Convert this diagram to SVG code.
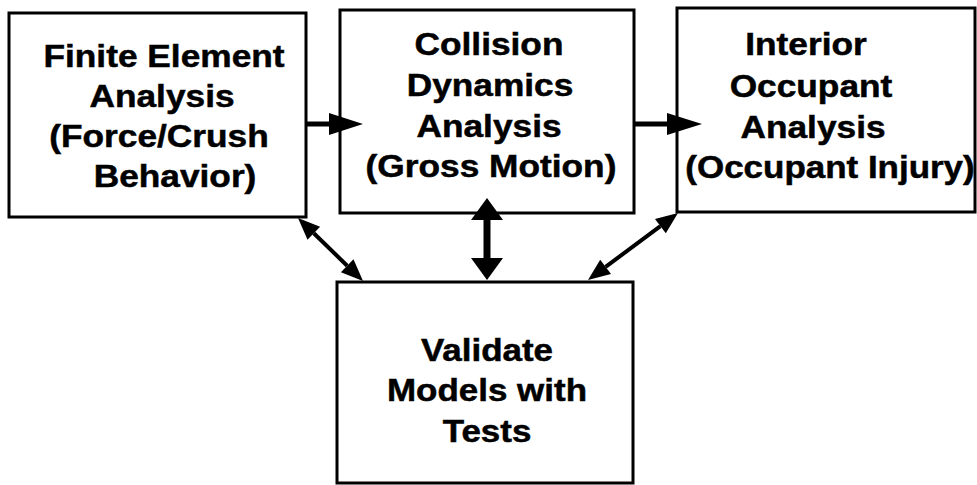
<svg xmlns="http://www.w3.org/2000/svg" width="977" height="485" viewBox="0 0 977 485">
<style>
.box{fill:#fff;stroke:#000;stroke-width:3}
.t{font-family:"Liberation Sans",Arial,sans-serif;font-weight:bold;font-size:31.5px;text-anchor:middle;fill:#000;stroke:#000;stroke-width:0.5}
.ln{stroke:#000;fill:none}
.hd{fill:#000;stroke:none}
</style>
<rect width="977" height="485" fill="#fff"/>
<g id="n1">
<rect class="box" x="9" y="13" width="297" height="204"/>
<text class="t" transform="translate(164,67) scale(1.12,1)">Finite Element</text>
<text class="t" transform="translate(162,107) scale(1.12,1)">Analysis</text>
<text class="t" transform="translate(159,147) scale(1.12,1)">(Force/Crush</text>
<text class="t" transform="translate(175,187) scale(1.12,1)">Behavior)</text>
</g>
<g id="n2">
<rect class="box" x="340" y="10" width="294" height="203"/>
<text class="t" transform="translate(489,55) scale(1.12,1)">Collision</text>
<text class="t" transform="translate(490,96) scale(1.12,1)">Dynamics</text>
<text class="t" transform="translate(489,137) scale(1.12,1)">Analysis</text>
<text class="t" transform="translate(491,177) scale(1.12,1)">(Gross Motion)</text>
</g>
<g id="n3">
<rect class="box" x="677" y="8" width="298" height="204"/>
<text class="t" transform="translate(806,55) scale(1.12,1)">Interior</text>
<text class="t" transform="translate(811,97) scale(1.12,1)">Occupant</text>
<text class="t" transform="translate(813,138) scale(1.12,1)">Analysis</text>
<text class="t" transform="translate(830,178) scale(1.11,1)">(Occupant Injury)</text>
</g>
<g id="n4">
<rect class="box" x="337" y="282" width="296" height="201"/>
<text class="t" transform="translate(487,361) scale(1.11,1)">Validate</text>
<text class="t" transform="translate(487,401) scale(1.11,1)">Models with</text>
<text class="t" transform="translate(487,442) scale(1.11,1)">Tests</text>
</g>
<g id="connectors">
<line class="ln" x1="306" y1="124" x2="331" y2="124" stroke-width="5"/>
<polygon class="hd" points="329,113 363,124 329,135"/>
<line class="ln" x1="634" y1="124" x2="669" y2="124" stroke-width="5"/>
<polygon class="hd" points="667,113 702,124 667,135"/>
<line class="ln" x1="487" y1="218" x2="487" y2="260" stroke-width="7"/>
<polygon class="hd" points="471,220 487,198 503,220"/>
<polygon class="hd" points="471,258 487,280 503,258"/>
<line class="ln" x1="313.8" y1="233.3" x2="347.2" y2="265.7" stroke-width="4"/>
<polygon class="hd" points="298,218 307.5,239.8 320.1,226.8"/>
<polygon class="hd" points="363,281 340.9,272.2 353.5,259.2"/>
<line class="ln" x1="660.4" y1="226.1" x2="605.6" y2="266.9" stroke-width="4"/>
<polygon class="hd" points="678,213 655,218.9 665.8,233.3"/>
<polygon class="hd" points="588,280 600.2,259.7 611,274.1"/>
</g>
</svg>
